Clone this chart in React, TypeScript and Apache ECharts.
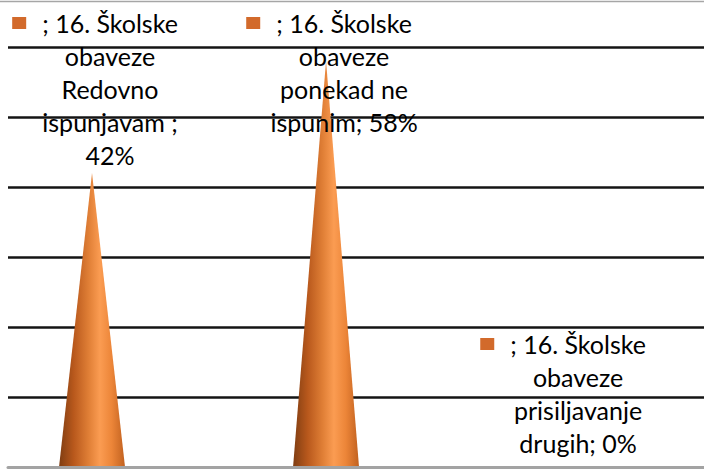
import React, { useEffect, useRef } from "react";
import * as echarts from "echarts";

const seriesName = "";
const categories = [
  "16. Školske obaveze Redovno ispunjavam ",
  "16. Školske obaveze ponekad ne ispunim",
  "16. Školske obaveze prisiljavanje drugih",
];
const categoryLines = [
  ["16. Školske", "obaveze", "Redovno", "ispunjavam "],
  ["16. Školske", "obaveze", "ponekad ne", "ispunim"],
  ["16. Školske", "obaveze", "prisiljavanje", "drugih"],
];
const values = [42, 58, 0];
const yMin = 0;
const yMax = 60;
const yStep = 10;

const FONT_SIZE = 25;
const FONT = `${FONT_SIZE}px Lato`;
const LINE_H = 33;

function measure(text: string): number {
  const c = document.createElement("canvas").getContext("2d");
  if (!c) return text.length * 10;
  c.font = FONT;
  return c.measureText(text).width;
}

function buildLines(i: number): string[] {
  const cl = categoryLines[i];
  const lines = cl.map((s, k) => (k === 0 ? seriesName + "; " + s : s));
  const last = lines[lines.length - 1];
  const tail = "; " + values[i] + "%";
  const joined = last + tail;
  if (joined.length > 14) {
    lines[lines.length - 1] = (last + ";").replace(/\s+;$/, " ;");
    lines.push(values[i] + "%");
  } else {
    lines[lines.length - 1] = joined;
  }
  return lines;
}

export default function App() {
  const ref = useRef<HTMLDivElement>(null);
  useEffect(() => {
    if (!ref.current) return;
    const chart = echarts.init(ref.current, undefined, { renderer: "svg" });
    const coneFill = () =>
      new echarts.graphic.LinearGradient(0, 0, 1, 0, [
        { offset: 0, color: "#7f3d12" },
        { offset: 0.22, color: "#b8581c" },
        { offset: 0.45, color: "#e07f36" },
        { offset: 0.62, color: "#fb9c52" },
        { offset: 0.8, color: "#ec8538" },
        { offset: 1, color: "#c1611f" },
      ]);
    chart.setOption({
      animation: false,
      grid: { left: 8, right: 0, top: 47, bottom: 2 },
      xAxis: {
        type: "value",
        min: -0.359,
        max: 2.615,
        z: 5,
        axisLine: { show: true, onZero: false, lineStyle: { color: "#a3a3a3", width: 3 } },
        axisTick: { show: false },
        axisLabel: { show: false },
        splitLine: { show: false },
      },
      yAxis: {
        type: "value",
        min: yMin,
        max: yMax,
        interval: yStep,
        axisLine: { show: false },
        axisTick: { show: false },
        axisLabel: { show: false },
        splitLine: {
          show: true,
          lineStyle: { color: "#141414", width: 2.5, type: "solid" },
        },
      },
      graphic: [
        {
          type: "line",
          shape: { x1: 0, y1: 1.5, x2: 704, y2: 1.5 },
          style: { stroke: "#a6a6a6", lineWidth: 1.5 },
          z: 10,
        },
      ],
      series: [
        {
          type: "custom",
          name: seriesName,
          clip: false,
          data: values.map((v, i) => [i, v]),
          encode: { x: 0, y: 1 },
          renderItem: (params: any, api: any) => {
            const idx = params.dataIndex;
            const v = api.value(1);
            const top = api.coord([idx, v]);
            const base = api.coord([idx, 0]);
            const cx = top[0];
            const band = api.size([1, 0])[0];
            const half = band * 0.141;
            const children: any[] = [];
            if (v > 0) {
              children.push({
                type: "polygon",
                shape: {
                  points: [
                    [cx, top[1]],
                    [cx + half, base[1]],
                    [cx - half, base[1]],
                  ],
                },
                style: { fill: coneFill() },
                z2: 1,
              });
            }
            const lines = buildLines(idx);
            const n = lines.length;
            const firstY = Math.max(23, top[1] - 24 - (n - 1) * LINE_H);
            const lx = cx + 18;
            lines.forEach((t, k) => {
              children.push({
                type: "text",
                x: lx,
                y: firstY + k * LINE_H,
                style: {
                  text: t,
                  font: FONT,
                  fill: "#000",
                  align: "center",
                  verticalAlign: "middle",
                },
                z2: 5,
              });
            });
            const w0 = measure(lines[0]);
            const textLeft = lx - w0 / 2;
            children.push({
              type: "rect",
              shape: { x: textLeft - 16 - 14, y: firstY - 6, width: 14, height: 12 },
              style: { fill: "#d26a2b" },
              z2: 5,
            });
            return { type: "group", children };
          },
        },
      ],
    });
    return () => chart.dispose();
  }, []);
  return <div ref={ref} style={{ width: 704, height: 469, position: "absolute", left: 0, top: 0 }} />;
}
